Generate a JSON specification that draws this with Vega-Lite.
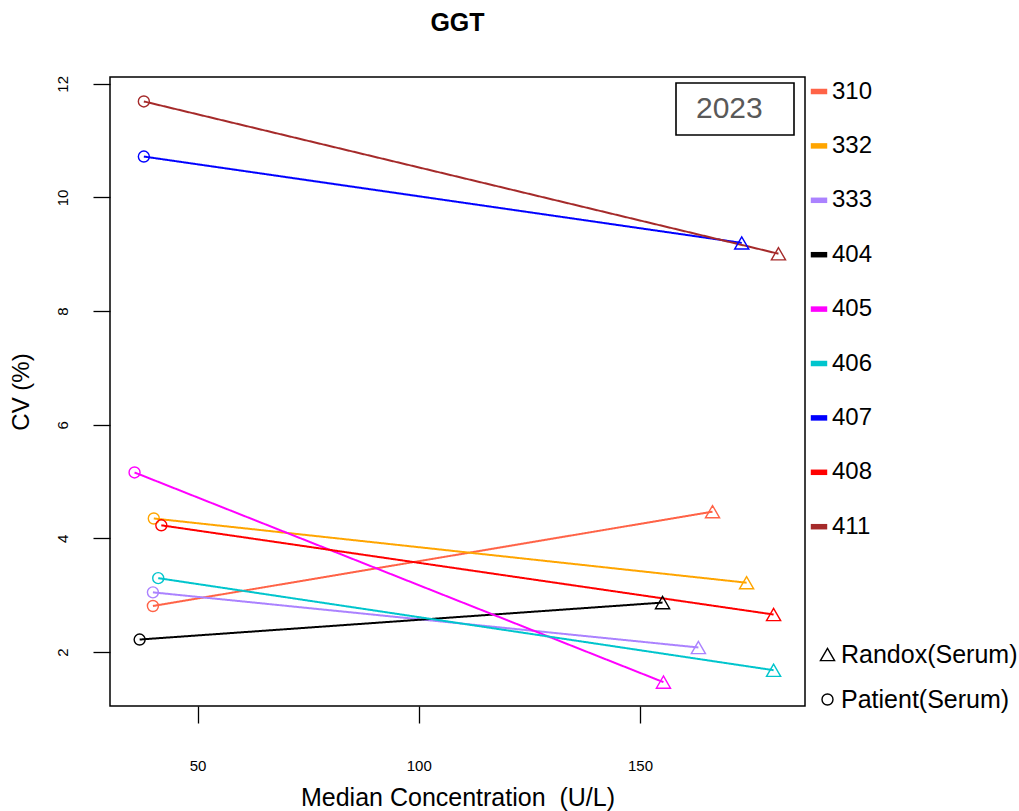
{
  "$schema": "https://vega.github.io/schema/vega-lite/v6.json",
  "width": 695,
  "height": 629,
  "autosize": {"type": "none"},
  "padding": {"left": 110, "top": 77, "right": 214, "bottom": 105},
  "background": "white",
  "title": {"text": "GGT", "font": "Liberation Sans", "fontSize": 25, "fontWeight": "bold", "color": "black", "anchor": "middle", "offset": 39},
  "config": {
    "view": {"stroke": "black", "strokeWidth": 1.5},
    "font": "Liberation Sans",
    "axis": {"grid": false, "domain": false, "tickColor": "black", "tickWidth": 1.3, "tickSize": 17, "labelColor": "black", "titleColor": "black", "labelFont": "Liberation Sans", "titleFont": "Liberation Sans", "titleFontWeight": "normal"}
  },
  "data": {"values": [
    {"lab": "310", "type": "Patient(Serum)", "conc": 39.9, "cv": 2.81, "yr": "2023"},
    {"lab": "310", "type": "Randox(Serum)", "conc": 166.4, "cv": 4.47, "yr": "2023"},
    {"lab": "332", "type": "Patient(Serum)", "conc": 40.1, "cv": 4.35, "yr": "2023"},
    {"lab": "332", "type": "Randox(Serum)", "conc": 174.1, "cv": 3.22, "yr": "2023"},
    {"lab": "333", "type": "Patient(Serum)", "conc": 39.9, "cv": 3.05, "yr": "2023"},
    {"lab": "333", "type": "Randox(Serum)", "conc": 163.2, "cv": 2.08, "yr": "2023"},
    {"lab": "404", "type": "Patient(Serum)", "conc": 36.9, "cv": 2.22, "yr": "2023"},
    {"lab": "404", "type": "Randox(Serum)", "conc": 155.1, "cv": 2.87, "yr": "2023"},
    {"lab": "405", "type": "Patient(Serum)", "conc": 35.75, "cv": 5.16, "yr": "2023"},
    {"lab": "405", "type": "Randox(Serum)", "conc": 155.3, "cv": 1.47, "yr": "2023"},
    {"lab": "406", "type": "Patient(Serum)", "conc": 41.1, "cv": 3.30, "yr": "2023"},
    {"lab": "406", "type": "Randox(Serum)", "conc": 180.2, "cv": 1.68, "yr": "2023"},
    {"lab": "407", "type": "Patient(Serum)", "conc": 37.85, "cv": 10.72, "yr": "2023"},
    {"lab": "407", "type": "Randox(Serum)", "conc": 173.0, "cv": 9.20, "yr": "2023"},
    {"lab": "408", "type": "Patient(Serum)", "conc": 41.8, "cv": 4.23, "yr": "2023"},
    {"lab": "408", "type": "Randox(Serum)", "conc": 180.2, "cv": 2.66, "yr": "2023"},
    {"lab": "411", "type": "Patient(Serum)", "conc": 37.85, "cv": 11.69, "yr": "2023"},
    {"lab": "411", "type": "Randox(Serum)", "conc": 181.3, "cv": 9.01, "yr": "2023"}
  ]},
  "encoding": {
    "x": {"field": "conc", "type": "quantitative",
      "scale": {"domain": [30.2, 187.3], "nice": false, "zero": false},
      "axis": {"values": [50, 100, 150], "title": "Median Concentration\u00a0 (U/L)", "labelFontSize": 15, "labelPadding": 35, "titleFontSize": 25, "titlePadding": 12}},
    "y": {"field": "cv", "type": "quantitative",
      "scale": {"domain": [1.05, 12.12], "nice": false, "zero": false},
      "axis": {"values": [2, 4, 6, 8, 10, 12], "title": "CV (%)", "labelAngle": -90, "labelAlign": "center", "labelBaseline": "bottom", "labelFontSize": 15, "labelPadding": 23, "titleFontSize": 24, "titlePadding": 22}},
    "color": {"field": "lab", "type": "nominal",
      "scale": {"domain": ["310", "332", "333", "404", "405", "406", "407", "408", "411"],
        "range": ["#FF6347", "#FFA500", "#AB82FF", "#000000", "#FF00FF", "#00C5CD", "#0000FF", "#FF0000", "#A52A2A"]},
      "legend": {"title": null, "orient": "none", "legendX": 697, "legendY": 2.5, "padding": 0,
        "symbolType": "stroke", "symbolSize": 270, "symbolStrokeWidth": 5.5, "symbolOpacity": 1,
        "labelFontSize": 24, "labelColor": "black", "labelOffset": 1, "rowPadding": 30.4}}
  },
  "layer": [
    {
      "mark": {"type": "line", "strokeWidth": 2},
      "encoding": {
        "strokeDash": {"field": "yr", "type": "nominal",
          "scale": {"domain": ["2023"], "range": [[1, 0]]},
          "legend": {"title": ".", "titleOrient": "right", "titleOpacity": 0, "titleFontSize": 10, "titlePadding": 17,
            "orient": "none", "legendX": 566, "legendY": 6, "padding": 11,
            "strokeColor": "black", "symbolOpacity": 0, "symbolStrokeWidth": 0,
            "labelFontSize": 30, "labelColor": "#595959", "labelOffset": -21,
            "encode": {"legend": {"update": {"strokeWidth": {"value": 1.6}}}}}}
      }
    },
    {
      "mark": {"type": "point", "filled": false, "strokeWidth": 1.4, "opacity": 1},
      "encoding": {
        "shape": {"field": "type", "type": "nominal",
          "scale": {"domain": ["Randox(Serum)", "Patient(Serum)"], "range": ["triangle-up", "circle"]},
          "legend": {"title": null, "orient": "none", "legendX": 705, "legendY": 565, "padding": 0,
            "symbolStrokeColor": "black", "symbolFillColor": "transparent", "symbolStrokeWidth": 1.4,
            "labelFontSize": 25, "labelColor": "black", "labelOffset": 1, "labelLimit": 400, "rowPadding": 19}},
        "size": {"field": "type", "type": "nominal",
          "scale": {"domain": ["Randox(Serum)", "Patient(Serum)"], "range": [200, 121]},
          "legend": {"title": null, "orient": "none", "legendX": 705, "legendY": 565, "padding": 0,
            "symbolStrokeColor": "black", "symbolFillColor": "transparent", "symbolStrokeWidth": 1.4,
            "labelFontSize": 25, "labelColor": "black", "labelOffset": 1, "labelLimit": 400, "rowPadding": 19}}
      }
    }
  ]
}
